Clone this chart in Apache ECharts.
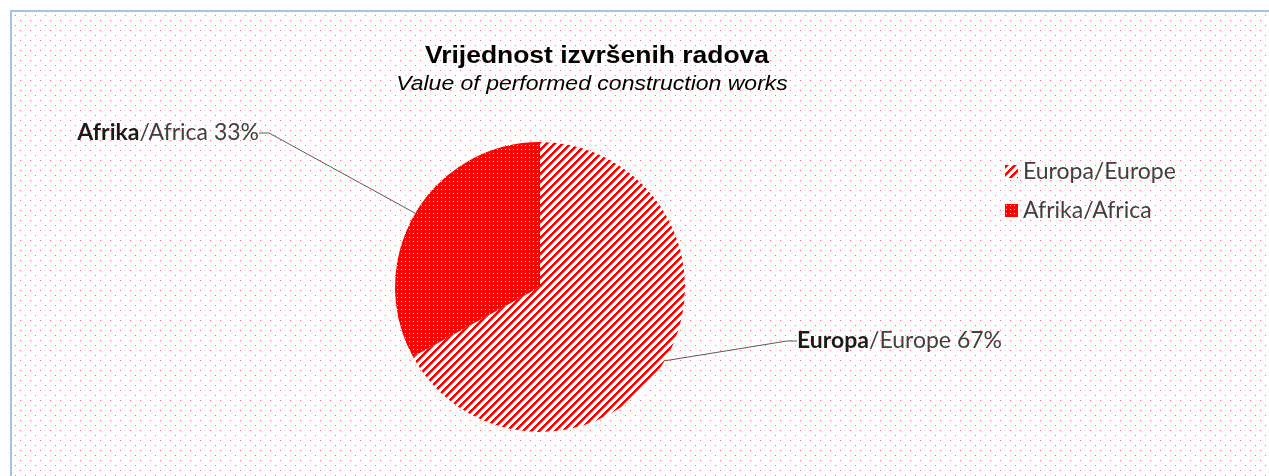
<!DOCTYPE html>
<html>
<head>
<meta charset="utf-8">
<script src="https://cdn.jsdelivr.net/npm/echarts@6/dist/echarts.min.js"></script>
<style>
html,body{margin:0;padding:0;background:#fff;}
#wrap{position:absolute;left:0;top:0;width:1269px;height:476px;overflow:hidden;}
#frame{position:absolute;left:10px;top:10px;width:1300px;height:500px;border-left:2px solid #a6bee9;border-top:2px solid #a6bee9;box-sizing:border-box;}
#chart{position:absolute;left:0;top:0;width:1269px;height:476px;}
</style>
</head>
<body>
<div id="wrap">
<div id="frame"></div>
<div id="chart"></div>
</div>
<script>
// ---- data ----
const titleText = 'Vrijednost izvršenih radova';
const subtitleText = 'Value of performed construction works';
const namesLocal = ['Europa', 'Afrika'];
const namesEn = ['Europe', 'Africa'];
const values = [67, 33];

// ---- patterns ----
function makeBg() {
  const c = document.createElement('canvas');
  c.width = 10; c.height = 10;
  const g = c.getContext('2d');
  g.fillStyle = '#ffffff'; g.fillRect(0, 0, 10, 10);
  g.fillStyle = '#ff6a6a';
  g.fillRect(3, 3, 1, 1);
  g.fillRect(8, 8, 1, 1);
  return c.toDataURL();
}
document.getElementById('frame').style.background = 'url(' + makeBg() + ') repeat';

function stripes() {
  const c = document.createElement('canvas');
  const n = 8;
  c.width = n; c.height = n;
  const g = c.getContext('2d');
  g.fillStyle = '#ffffff'; g.fillRect(0, 0, n, n);
  for (let x = 0; x < n; x++) for (let y = 0; y < n; y++) {
    const k = (x + y) % n;
    if (k < 3) { g.fillStyle = '#ff0000'; g.fillRect(x, y, 1, 1); }
    else if (k === 3) { g.fillStyle = '#ff7070'; g.fillRect(x, y, 1, 1); }
  }
  return c;
}
function dotsRed() {
  const c = document.createElement('canvas');
  c.width = 4; c.height = 4;
  const g = c.getContext('2d');
  g.fillStyle = '#ff0000'; g.fillRect(0, 0, 4, 4);
  g.fillStyle = '#ffd8d8';
  g.fillRect(1, 1, 1, 1);
  return c;
}
const fills = [
  { image: stripes(), repeat: 'repeat' },
  { image: dotsRed(), repeat: 'repeat' }
];

const labelPos = [
  { x: 797, y: 341, align: 'left' },
  { x: 259, y: 133, align: 'right' }
];

const chart = echarts.init(document.getElementById('chart'), null, { renderer: 'canvas' });
const labelFont = 'Lato, "Liberation Sans", sans-serif';
const titleFont = '"Liberation Sans", Arial, sans-serif';
chart.setOption({
  backgroundColor: 'transparent',
  animation: false,
  graphic: [
    { type: 'text', x: 597, y: 57, scaleX: 1.15,
      style: { text: titleText, align: 'center', verticalAlign: 'middle',
        font: 'bold 23px ' + titleFont, fill: '#000' } },
    { type: 'text', x: 592, y: 84, scaleX: 1.15,
      style: { text: subtitleText, align: 'center', verticalAlign: 'middle',
        font: 'italic 20px ' + titleFont, fill: '#000' } }
  ],
  legend: {
    orient: 'vertical',
    left: 1000,
    top: 155,
    itemWidth: 13,
    itemHeight: 13,
    itemGap: 16,
    icon: 'rect',
    textStyle: { fontFamily: labelFont, fontSize: 23, color: '#404040' },
    data: namesLocal.map((n, i) => n + '/' + namesEn[i])
  },
  series: [{
    type: 'pie',
    center: [540, 287],
    radius: 145,
    startAngle: 90,
    clockwise: true,
    data: values.map((v, i) => ({
      name: namesLocal[i] + '/' + namesEn[i],
      value: v,
      itemStyle: { color: fills[i] }
    })),
    label: {
      show: true,
      fontFamily: labelFont,
      fontSize: 23,
      color: '#404040',
      formatter: function (p) {
        return '{b|' + namesLocal[p.dataIndex] + '}/' + namesEn[p.dataIndex] + ' ' + values[p.dataIndex] + '%';
      },
      rich: {
        b: { fontFamily: labelFont, fontSize: 23, fontWeight: 'bold', color: '#1a1a1a' }
      }
    },
    labelLine: {
      show: true,
      length: 5,
      length2: 10,
      lineStyle: { color: '#595959', width: 1 }
    },
    labelLayout: function (p) {
      const lp = labelPos[p.dataIndex];
      return { x: lp.x, y: lp.y, align: lp.align, verticalAlign: 'middle' };
    },
    emphasis: { disabled: true }
  }]
});
</script>
</body>
</html>
